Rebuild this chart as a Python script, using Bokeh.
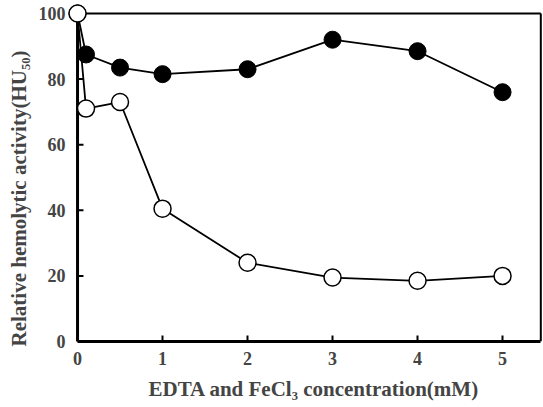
from bokeh.plotting import figure
from bokeh.models import Range1d, FixedTicker, Title
from bokeh.embed import file_html
from bokeh.resources import INLINE

# Data
conc = [0, 0.1, 0.5, 1, 2, 3, 4, 5]
edta = [100, 71, 73, 40.5, 24, 19.5, 18.5, 20]       # open circles
fecl3 = [100, 87.5, 83.5, 81.5, 83, 92, 88.5, 76]    # filled circles
x_ticks = [0, 1, 2, 3, 4, 5]
y_ticks = [0, 20, 40, 60, 80, 100]

XMAX = 5.45
YMAX = 100
TICK = 0.07

FONT = "Liberation Serif"

p = figure(width=543, height=407, output_backend="svg", toolbar_location=None,
           x_range=Range1d(-0.118, 5.47), y_range=Range1d(0, 103.04),
           min_border_left=67, min_border_right=1, min_border_top=3, min_border_bottom=65)
p.outline_line_color = None
p.grid.visible = False
p.background_fill_color = "white"

for ax, ticks in ((p.xaxis, x_ticks), (p.yaxis, y_ticks)):
    ax.ticker = FixedTicker(ticks=ticks)
    ax.minor_tick_line_color = None
    ax.major_tick_in = 6
    ax.major_tick_out = 0
    ax.major_tick_line_width = 2
    ax.axis_line_width = 3
    ax.major_label_text_font = FONT
    ax.major_label_text_font_style = "bold"
    ax.major_label_text_font_size = "18px"

p.xaxis.bounds = (0, XMAX)
p.xaxis.major_label_standoff = 10

p.yaxis.axis_line_color = None
p.yaxis.major_tick_line_color = None
p.yaxis.major_label_standoff = 2

xlab = Title(text="EDTA and FeCl\u2083 concentration(mM)", align="left", offset=81,
             text_font=FONT, text_font_style="bold", text_font_size="21px",
             standoff=14)
p.add_layout(xlab, "below")
ylab = Title(text="Relative hemolytic activity(HU\u2085\u2080)", align="left", offset=-5,
             vertical_align="top", text_line_height=1.0,
             text_font=FONT, text_font_style="bold", text_font_size="21px",
             standoff=5)
p.add_layout(ylab, "left")

# box: left, top and right borders; manual left ticks
p.segment(x0=[0], y0=[0], x1=[0], y1=[YMAX], line_color="black", line_width=3)
p.segment(x0=[0, XMAX], y0=[YMAX, 0], x1=[XMAX, XMAX], y1=[YMAX, YMAX],
          line_color="black", line_width=2)
p.segment(x0=[0] * len(y_ticks), y0=y_ticks, x1=[TICK] * len(y_ticks), y1=y_ticks,
          line_color="black", line_width=2)

p.line(conc, fecl3, line_color="black", line_width=1.8)
p.line(conc, edta, line_color="black", line_width=1.8)
p.scatter(conc, fecl3, size=17, fill_color="black", line_color="black")
p.scatter(conc, edta, size=17, fill_color="white", line_color="black", line_width=1.5)

open("out.html", "w").write(file_html(p, INLINE))
